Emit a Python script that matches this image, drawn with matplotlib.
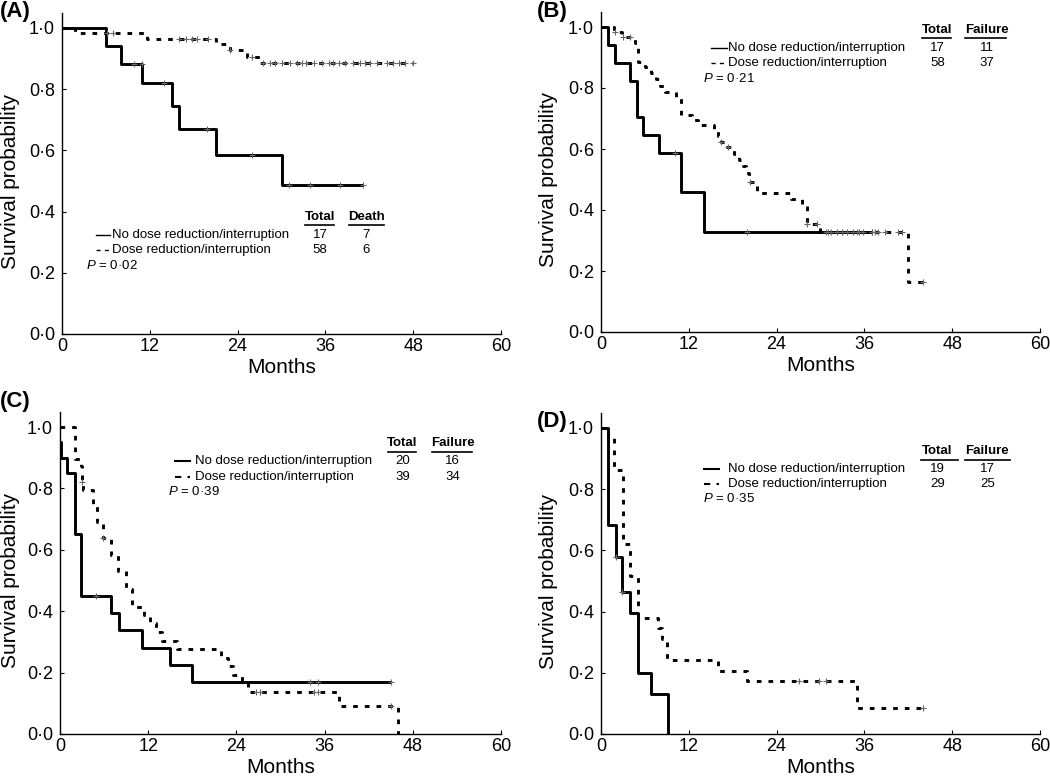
import numpy as np
import matplotlib
matplotlib.use('Agg')
import matplotlib.pyplot as plt

plt.rcParams['font.family'] = ['Liberation Sans', 'DejaVu Sans']
plt.rcParams['mathtext.fontset'] = 'custom'
plt.rcParams['mathtext.it'] = 'Liberation Sans:italic'
plt.rcParams['mathtext.rm'] = 'Liberation Sans'

## Kaplan-Meier curves, 4 panels

# (A) overall survival
a_solid_t = [0, 6, 8, 11, 15, 16, 21, 30]
a_solid_s = [1.0, 0.941, 0.882, 0.819, 0.745, 0.670, 0.586, 0.488]
a_solid_end = 41.2
a_solid_cens = [9.8, 10.9, 13.9, 19.8, 26.0, 31.0, 33.9, 38.0, 41.2]
a_dash_t = [0, 1.8, 11.6, 21.0, 23.0, 25.3, 27.0]
a_dash_s = [1.0, 0.983, 0.965, 0.947, 0.928, 0.906, 0.884]
a_dash_end = 48.0
a_dash_cens = [6.1, 7.0, 16.0, 17.0, 17.7, 18.4, 20.0, 23.0, 26.0, 27.5, 28.4, 29.1,
               30.0, 31.1, 32.1, 32.8, 33.4, 34.4, 35.5, 36.5, 37.1, 37.8, 38.7, 39.8,
               40.7, 41.4, 42.1, 43.0, 44.4, 45.3, 46.0, 46.9, 48.0]

# (B)
b_solid_t = [0, 0.9, 1.9, 4.0, 4.9, 5.8, 7.9, 11.0, 14.1]
b_solid_s = [1.0, 0.941, 0.882, 0.824, 0.706, 0.647, 0.588, 0.458, 0.327]
b_solid_end = 37.0
b_solid_cens = [10.1, 19.9, 31.0, 33.0, 35.0, 37.0]
b_dash_t = [0, 1.8, 2.9, 4.6, 5.1, 6.0, 6.9, 7.5, 8.1, 8.7, 10.2, 11.0, 12.5, 13.2,
            15.5, 16.0, 16.4, 17.0, 18.2, 18.9, 19.4, 19.8, 20.2, 21.3, 26.0, 27.5,
            28.2, 29.9, 42.0]
b_dash_s = [1.0, 0.983, 0.966, 0.948, 0.886, 0.868, 0.850, 0.828, 0.806, 0.788, 0.771,
            0.712, 0.695, 0.678, 0.662, 0.643, 0.624, 0.605, 0.585, 0.565, 0.545, 0.520,
            0.492, 0.455, 0.436, 0.416, 0.355, 0.327, 0.163]
b_dash_end = 44.0
b_dash_cens = [1.9, 3.0, 4.0, 16.4, 17.3, 20.4, 28.2, 29.5, 30.8, 31.5, 32.2, 32.9,
               33.6, 34.5, 35.2, 35.8, 37.0, 37.4, 37.9, 38.8, 40.6, 41.1, 44.0]

# (C)
c_solid_t = [0, 0.2, 1.0, 2.0, 2.9, 7.0, 8.0, 11.1, 15.0, 18.0]
c_solid_s = [0.95, 0.90, 0.85, 0.65, 0.45, 0.394, 0.338, 0.281, 0.225, 0.169]
c_solid_end = 45.1
c_solid_cens = [4.95, 34.0, 35.1, 45.1]
c_dash_t = [0, 2.0, 2.8, 3.0, 3.1, 4.5, 5.0, 5.9, 6.9, 7.9, 9.0, 9.8, 11.4, 12.3,
            13.0, 13.9, 15.9, 21.9, 22.8, 23.6, 24.8, 25.6, 38.0, 46.0]
c_dash_s = [1.0, 0.897, 0.872, 0.821, 0.795, 0.744, 0.692, 0.640, 0.584, 0.530, 0.473,
            0.415, 0.387, 0.360, 0.332, 0.304, 0.277, 0.249, 0.221, 0.193, 0.166, 0.138,
            0.092, 0.0]
c_dash_end = 46.0
c_dash_cens = [3.0, 5.9, 26.7, 27.2, 34.6, 35.1, 45.1]

# (D)
d_solid_t = [0, 0.9, 1.0, 2.0, 2.9, 4.0, 5.0, 6.9, 9.1]
d_solid_s = [1.0, 0.947, 0.684, 0.579, 0.463, 0.397, 0.198, 0.132, 0.0]
d_solid_end = 9.1
d_solid_cens = [2.0, 2.9]
d_dash_t = [0, 1.0, 1.8, 3.0, 4.0, 5.0, 7.8, 8.3, 9.0, 16.0, 20.0, 35.0]
d_dash_s = [1.0, 0.966, 0.862, 0.621, 0.517, 0.379, 0.345, 0.310, 0.241, 0.207, 0.172, 0.086]
d_dash_end = 44.0
d_dash_cens = [27.0, 29.8, 30.8, 44.0]

groups = ['No dose reduction/interruption', 'Dose reduction/interruption']
totals = {'A': [17, 58], 'B': [17, 58], 'C': [20, 39], 'D': [19, 29]}
events = {'A': [7, 6], 'B': [11, 37], 'C': [16, 34], 'D': [17, 25]}
event_names = {'A': 'Death', 'B': 'Failure', 'C': 'Failure', 'D': 'Failure'}
pvalues = {'A': '0\u00b702', 'B': '0\u00b721', 'C': '0\u00b739', 'D': '0\u00b735'}

x_ticks = [0, 12, 24, 36, 48, 60]
y_ticks = [0, 0.2, 0.4, 0.6, 0.8, 1.0]
y_ticklabels = ['0\u00b70', '0\u00b72', '0\u00b74', '0\u00b76', '0\u00b78', '1\u00b70']

W, H = 1050, 777
fig = plt.figure(figsize=(W/100, H/100), dpi=100)

# axes boxes in pixels: left, right, y of 0, y of 1.0
boxes = {'A': (62, 501, 334, 28), 'B': (601, 1040, 332, 27),
         'C': (60, 501, 734, 427), 'D': (601, 1040, 734, 428)}
label_pos = {'A': (0, 11), 'B': (537, 11), 'C': (0, 401), 'D': (537, 422)}
ylab_x = {'A': -0.096, 'B': -0.098, 'C': -0.091, 'D': -0.098}

# legend layout in data coords
leg = {
    'A': dict(sx=(4.7, 6.6), tx=6.8, px=3.3, c1=35.3, c2=41.6, hy=0.382, uy=0.356,
              r=(0.324, 0.275), py=0.223, u1=(33.2, 37.2), u2=(39.2, 44.0), lw=1.0),
    'B': dict(sx=(15.1, 17.2), tx=17.4, px=14.0, c1=46.0, c2=52.8, hy=0.99, uy=0.963,
              r=(0.930, 0.881), py=0.830, u1=(43.9, 47.9), u2=(49.8, 55.4), lw=1.0),
    'C': dict(sx=(15.7, 17.7), tx=18.3, px=14.7, c1=46.6, c2=53.4, hy=0.947, uy=0.92,
              r=(0.889, 0.838), py=0.789, u1=(44.6, 48.5), u2=(50.6, 56.0), lw=1.5),
    'D': dict(sx=(14.1, 16.1), tx=17.4, px=14.0, c1=46.0, c2=52.8, hy=0.925, uy=0.895,
              r=(0.866, 0.817), py=0.768, u1=(43.8, 48.8), u2=(49.7, 55.9), lw=1.5),
}

curves = {
    'A': [(a_solid_t, a_solid_s, a_solid_end, a_solid_cens),
          (a_dash_t, a_dash_s, a_dash_end, a_dash_cens)],
    'B': [(b_solid_t, b_solid_s, b_solid_end, b_solid_cens),
          (b_dash_t, b_dash_s, b_dash_end, b_dash_cens)],
    'C': [(c_solid_t, c_solid_s, c_solid_end, c_solid_cens),
          (c_dash_t, c_dash_s, c_dash_end, c_dash_cens)],
    'D': [(d_solid_t, d_solid_s, d_solid_end, d_solid_cens),
          (d_dash_t, d_dash_s, d_dash_end, d_dash_cens)],
}

styles = ['-', (0, (1.6, 2.4))]
fs_leg = 9.5

for key in ['A', 'B', 'C', 'D']:
    xl, xr, y0, y1 = boxes[key]
    unit = y0 - y1
    top = y1 - 0.05*unit
    ax = fig.add_axes([xl/W, 1 - y0/H, (xr - xl)/W, (y0 - top)/H])
    ax.set_xlim(0, 60)
    ax.set_ylim(0, 1.05)

    for k, (t, s, end, cens) in enumerate(curves[key]):
        t = np.asarray(t, float)
        s = np.asarray(s, float)
        xs = np.append(t, end)
        ys = np.append(s, s[-1])
        ax.step(xs, ys, where='post', color='black', lw=2.1, ls=styles[k],
                solid_capstyle='butt', clip_on=False, zorder=3)
        cens = np.asarray(cens, float)
        idx = np.searchsorted(t, cens, side='right') - 1
        ax.plot(cens, s[idx], ls='none', marker='+', ms=5, mew=0.8,
                color='0.4', zorder=4, clip_on=False)

    for side in ['top', 'right']:
        ax.spines[side].set_visible(False)
    for side in ['left', 'bottom']:
        ax.spines[side].set_linewidth(1.0)
    ax.set_xticks(x_ticks)
    ax.set_yticks(y_ticks)
    ax.set_yticklabels(y_ticklabels)
    ax.tick_params(direction='in', length=3, width=0.8, labelsize=13)
    ax.tick_params(axis='y', pad=5)
    ax.tick_params(axis='x', pad=3)
    ax.set_xlabel('Months', fontsize=15)
    ax.set_ylabel('Survival probability', fontsize=15)
    ax.xaxis.set_label_coords(0.5, -0.075)
    ax.yaxis.set_label_coords(ylab_x[key], 0.476)

    # legend / table
    L = leg[key]
    for k in range(2):
        ax.plot(L['sx'], [L['r'][k]]*2, color='black', lw=L['lw'],
                ls='-' if k == 0 else (0, (3, 3)), clip_on=False)
        ax.text(L['tx'], L['r'][k], groups[k], fontsize=fs_leg, va='center', ha='left')
        ax.text(L['c1'], L['r'][k], str(totals[key][k]), fontsize=fs_leg, va='center', ha='center')
        ax.text(L['c2'], L['r'][k], str(events[key][k]), fontsize=fs_leg, va='center', ha='center')
    ax.text(L['c1'], L['hy'], 'Total', fontsize=fs_leg, fontweight='bold', va='center', ha='center')
    ax.text(L['c2'], L['hy'], event_names[key], fontsize=fs_leg, fontweight='bold',
            va='center', ha='center')
    ax.plot(L['u1'], [L['uy']]*2, color='black', lw=1.2, clip_on=False)
    ax.plot(L['u2'], [L['uy']]*2, color='black', lw=1.2, clip_on=False)
    ax.text(L['px'], L['py'], '$P$ = ' + pvalues[key], fontsize=fs_leg, va='center', ha='left')

    lx, ly = label_pos[key]
    fig.text(lx/W, 1 - ly/H, '(' + key + ')', fontsize=16, fontweight='bold',
             va='center', ha='left')

fig.savefig('out.png', dpi=100)
